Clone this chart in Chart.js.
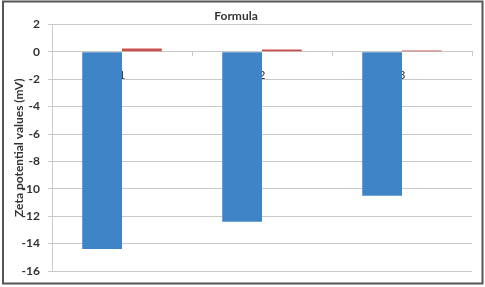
<!DOCTYPE html>
<html>
<head>
<meta charset="utf-8">
<script src="https://cdn.jsdelivr.net/npm/chart.js@4/dist/chart.umd.min.js"></script>
<style>
  html, body { margin: 0; padding: 0; background: #fff; }
  #wrap { width: 485px; height: 287px; position: relative; }
</style>
</head>
<body>
<div id="wrap"><canvas id="chart"></canvas></div>
<script>
// --- data ---
const categories = ['1', '2', '3'];
const seriesBlue = [-14.4, -12.4, -10.5];
const seriesRed = [0.24, 0.16, 0.1];
const yTicks = [2, 0, -2, -4, -6, -8, -10, -12, -14, -16];

const textColor = '#333333';
const gridColor = '#c9c9c9';

// frame round the whole picture
const framePlugin = {
    id: 'frame',
    beforeDraw(chart) {
        const c = chart.ctx;
        c.save();
        c.fillStyle = '#ffffff';
        c.fillRect(0, 0, chart.width, chart.height);
        c.strokeStyle = '#555555';
        c.lineWidth = 2;
        c.strokeRect(3, 1.5, 479.5, 282);
        c.restore();
    }
};

new Chart(document.getElementById('chart'), {
    type: 'bar',
    data: {
        labels: categories,
        datasets: [
            { label: 'Series1', data: seriesBlue, backgroundColor: '#3e84c6', barPercentage: 1, categoryPercentage: 0.568 },
            { label: 'Series2', data: seriesRed, backgroundColor: '#c9504c', barPercentage: 1, categoryPercentage: 0.568 }
        ]
    },
    options: {
        responsive: true,
        maintainAspectRatio: false,
        animation: false,
        layout: { padding: { left: 0, right: 13, top: 0, bottom: 16 } },
        plugins: {
            legend: { display: false },
            tooltip: { enabled: false },
            title: {
                display: true,
                text: 'Formula',
                color: textColor,
                font: { family: 'Lato', size: 12, weight: 'bold' },
                padding: { top: 9, bottom: 1 }
            }
        },
        scales: {
            x: {
                position: { y: 0 },
                grid: { display: true, drawOnChartArea: false, drawTicks: true, tickLength: 4, offset: true, color: gridColor },
                border: { display: true, color: gridColor },
                ticks: { color: textColor, font: { family: 'Lato', size: 12 }, padding: 12 }
            },
            y: {
                min: -16,
                max: 2,
                afterFit(scale) { scale.width = 52; },
                afterBuildTicks(scale) { scale.ticks = yTicks.map(v => ({ value: v })); },
                grid: { color: gridColor, tickLength: 4 },
                border: { color: gridColor },
                ticks: { color: textColor, font: { family: 'Lato', size: 12, weight: 'bold' }, padding: 8 },
                title: {
                    display: true,
                    text: 'Zeta potential values (mV)',
                    color: textColor,
                    font: { family: 'Lato', size: 12, weight: 'bold' },
                    padding: { top: 12, bottom: 0 }
                }
            }
        }
    },
    plugins: [framePlugin]
});
</script>
</body>
</html>
